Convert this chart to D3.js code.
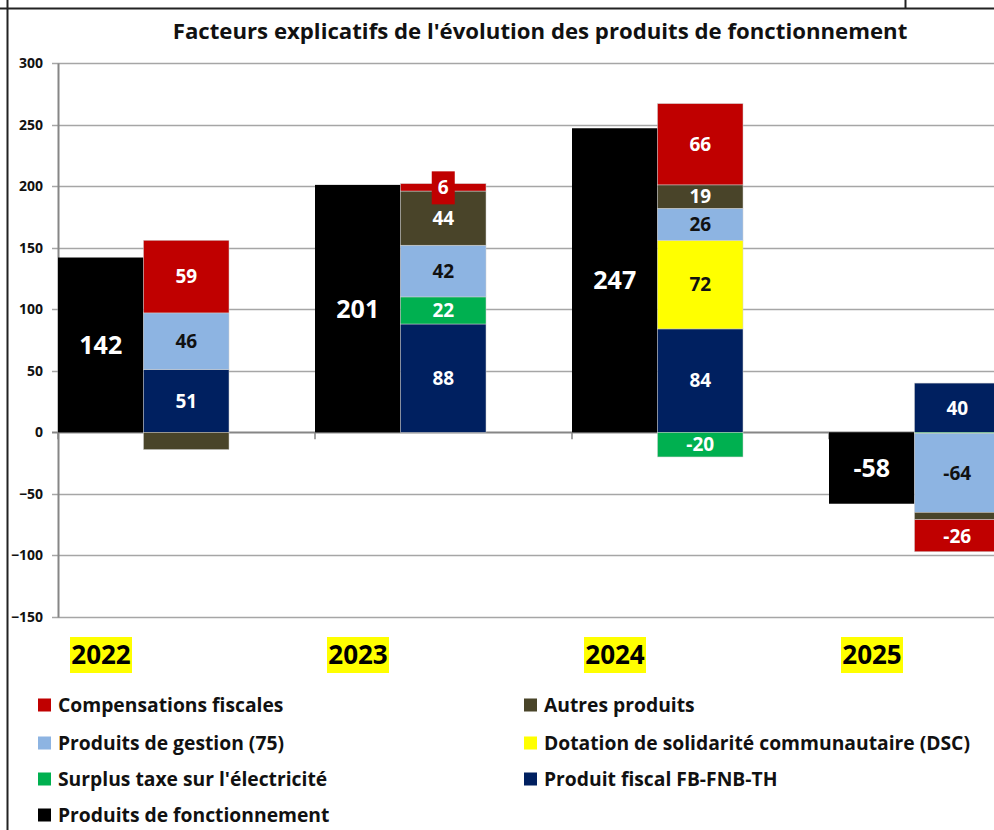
<!DOCTYPE html>
<html>
<head>
<meta charset="utf-8">
<script src="https://cdn.jsdelivr.net/npm/d3@7"></script>
<style>
  body { margin: 0; background: #fff; }
  svg text { font-family: "Open Sans", Lato, sans-serif; font-weight: bold; }
</style>
</head>
<body>
<div id="chart"></div>
<script>
// data
var years = ["2022", "2023", "2024", "2025"];
var totals = [142, 201, 247, -58];
var fiscal = [51, 88, 84, 40];
var surplus = [0, 22, -20, -1];
var dsc = [0, 0, 72, 0];
var gestion = [46, 42, 26, -64];
var autres = [-14, 44, 19, -6];
var compensations = [59, 6, 66, -26];
var yTicks = [300, 250, 200, 150, 100, 50, 0, -50, -100, -150];

var seriesNames = ["Produit fiscal FB-FNB-TH", "Surplus taxe sur l'électricité",
  "Dotation de solidarité communautaire (DSC)", "Produits de gestion (75)",
  "Autres produits", "Compensations fiscales"];
var seriesValues = [fiscal, surplus, dsc, gestion, autres, compensations];
var totalName = "Produits de fonctionnement";
var hiddenLabels = [["2022", "Autres produits"], ["2025", "Surplus taxe sur l'électricité"], ["2025", "Autres produits"]];
var legendOrder = ["Compensations fiscales", "Autres produits", "Produits de gestion (75)",
  "Dotation de solidarité communautaire (DSC)", "Surplus taxe sur l'électricité",
  "Produit fiscal FB-FNB-TH", totalName];

var colors = {
  "Produit fiscal FB-FNB-TH": "#002060",
  "Surplus taxe sur l'électricité": "#00B050",
  "Dotation de solidarité communautaire (DSC)": "#FFFF00",
  "Produits de gestion (75)": "#8DB4E2",
  "Autres produits": "#494429",
  "Compensations fiscales": "#C00000",
  "Produits de fonctionnement": "#000000"
};
var darkText = ["Dotation de solidarité communautaire (DSC)", "Produits de gestion (75)"];

var W = 994, H = 830;
var svg = d3.select("#chart").append("svg").attr("width", W).attr("height", H);

// frame lines
svg.append("line").attr("x1", 0).attr("x2", W).attr("y1", 8.5).attr("y2", 8.5).attr("stroke", "#222").attr("stroke-width", 2);
svg.append("line").attr("x1", 7.5).attr("x2", 7.5).attr("y1", 0).attr("y2", H).attr("stroke", "#222").attr("stroke-width", 2);
svg.append("line").attr("x1", 905.5).attr("x2", 905.5).attr("y1", 0).attr("y2", 8).attr("stroke", "#222").attr("stroke-width", 2);

svg.append("text").attr("x", 540).attr("y", 39).attr("text-anchor", "middle")
  .attr("font-size", 22.2).attr("fill", "#111")
  .text("Facteurs explicatifs de l'évolution des produits de fonctionnement");

var y = d3.scaleLinear().domain([-150, 300]).range([617, 63]);
var x = d3.scaleBand().domain(years).range([58, 58 + 4 * 257]).padding(0);
var xi = d3.scaleBand().domain(["total", "stack"]).range([0, 171]).padding(0);

// gridlines
svg.append("g").selectAll("line").data(yTicks).enter().append("line")
  .attr("x1", 52).attr("x2", W)
  .attr("y1", function(d) { return Math.round(y(d)) + 0.5; })
  .attr("y2", function(d) { return Math.round(y(d)) + 0.5; })
  .attr("stroke", function(d) { return d === 0 ? "#868686" : "#a6a6a6"; })
  .attr("stroke-width", function(d) { return d === 0 ? 2 : 1.5; });

var yAxis = d3.axisLeft(y).tickValues(yTicks).tickSize(0).tickPadding(15);
var ga = svg.append("g").attr("transform", "translate(58,0)").call(yAxis);
ga.select(".domain").attr("stroke", "#868686").attr("stroke-width", 2);
ga.selectAll("text").attr("font-size", 14).attr("fill", "#111")
  .attr("font-family", "'Open Sans', sans-serif").attr("font-weight", "bold");

// category ticks
svg.append("g").selectAll("line").data(years).enter().append("line")
  .attr("x1", function(d) { return x(d); }).attr("x2", function(d) { return x(d); })
  .attr("y1", y(0)).attr("y2", y(0) + 7).attr("stroke", "#868686").attr("stroke-width", 1.5);

// stacked data
var rows = years.map(function(yr, i) {
  var r = { year: yr };
  seriesNames.forEach(function(s, k) { r[s] = seriesValues[k][i]; });
  return r;
});
var stack = d3.stack().keys(seriesNames).offset(d3.stackOffsetDiverging);
var layers = stack(rows);

// total bars
svg.append("g").selectAll("rect").data(years).enter().append("rect")
  .attr("x", function(d) { return x(d) + xi("total"); })
  .attr("width", xi.bandwidth())
  .attr("y", function(d, i) { return y(Math.max(0, totals[i])); })
  .attr("height", function(d, i) { return Math.abs(y(totals[i]) - y(0)); })
  .attr("fill", colors[totalName]);

svg.append("g").selectAll("text").data(years).enter().append("text")
  .attr("x", function(d) { return x(d) + xi("total") + xi.bandwidth() / 2; })
  .attr("y", function(d, i) { return y(totals[i] / 2); })
  .attr("dy", "0.36em").attr("text-anchor", "middle")
  .attr("font-size", 25).attr("fill", "#fff")
  .text(function(d, i) { return totals[i]; });

var segs = [];
layers.forEach(function(layer) {
  layer.forEach(function(p, i) {
    var v = seriesValues[seriesNames.indexOf(layer.key)][i];
    if (v !== 0) segs.push({ key: layer.key, year: years[i], y0: p[0], y1: p[1], v: v });
  });
});

svg.append("g").selectAll("rect").data(segs).enter().append("rect")
  .attr("x", function(d) { return x(d.year) + xi("stack"); })
  .attr("width", xi.bandwidth())
  .attr("y", function(d) { return y(Math.max(d.y0, d.y1)); })
  .attr("height", function(d) { return Math.abs(y(d.y0) - y(d.y1)); })
  .attr("fill", function(d) { return colors[d.key]; })
  .attr("stroke", "#d0d0d0").attr("stroke-width", 0.5);

var labelled = segs.filter(function(d) {
  return !hiddenLabels.some(function(h) { return h[0] === d.year && h[1] === d.key; });
});
var lab = svg.append("g").selectAll("g").data(labelled).enter().append("g")
  .attr("transform", function(d) {
    return "translate(" + (x(d.year) + xi("stack") + xi.bandwidth() / 2) + "," + y((d.y0 + d.y1) / 2) + ")";
  });
lab.filter(function(d) { return Math.abs(y(d.y0) - y(d.y1)) < 20; })
  .append("rect").attr("x", -11.5).attr("y", -16).attr("width", 23).attr("height", 33)
  .attr("fill", function(d) { return colors[d.key]; });
lab.append("text").attr("text-anchor", "middle").attr("dy", "0.36em")
  .attr("font-size", 19)
  .attr("fill", function(d) { return darkText.indexOf(d.key) >= 0 ? "#111" : "#fff"; })
  .text(function(d) { return d.v; });

// year labels with yellow highlight
var yl = svg.append("g").selectAll("g").data(years).enter().append("g")
  .attr("transform", function(d) { return "translate(" + (x(d) + 43) + ",655)"; });
yl.append("rect").attr("x", -31).attr("y", -18).attr("width", 62).attr("height", 36).attr("fill", "#FFFF00");
yl.append("text").attr("text-anchor", "middle").attr("dy", "0.36em")
  .attr("font-size", 26).attr("fill", "#000").text(function(d) { return d; });

// legend
var leg = svg.append("g").selectAll("g").data(legendOrder).enter().append("g")
  .attr("transform", function(d, i) {
    return "translate(" + (i % 2 === 0 ? 38 : 524) + "," + [705, 743, 779, 815][Math.floor(i / 2)] + ")";
  });
leg.append("rect").attr("x", 0).attr("y", -6.5).attr("width", 13).attr("height", 13)
  .attr("fill", function(d) { return colors[d]; });
leg.append("text").attr("x", 20).attr("dy", "0.36em").attr("font-size", 19.3).attr("fill", "#111")
  .text(function(d) { return d; });
</script>
</body>
</html>
